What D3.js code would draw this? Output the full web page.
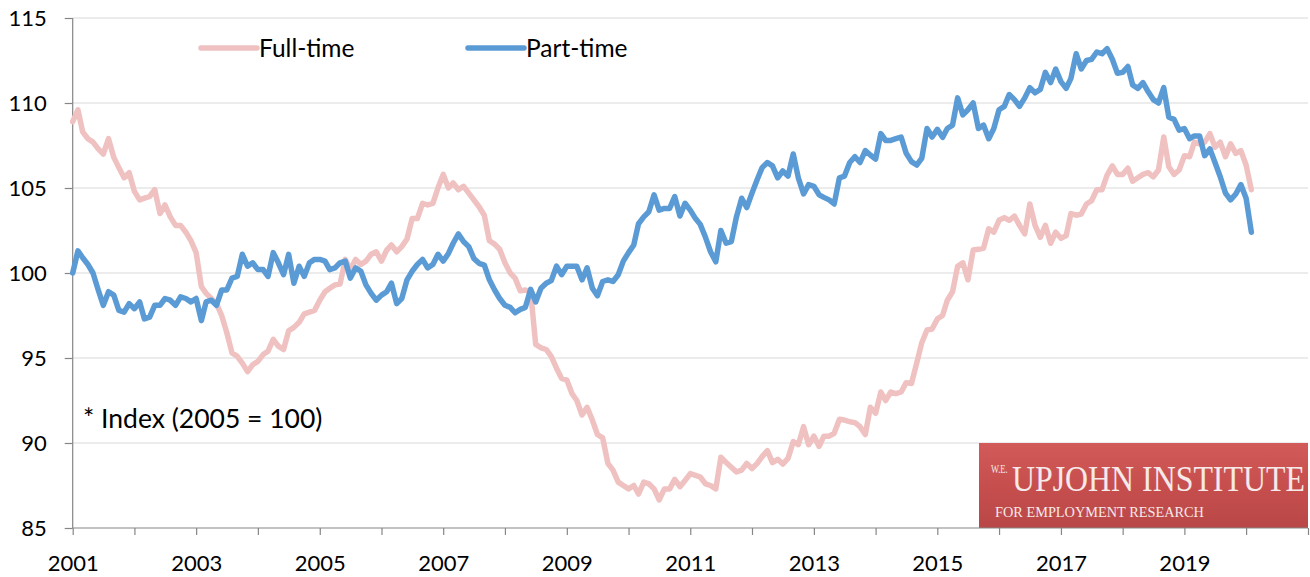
<!DOCTYPE html>
<html>
<head>
<meta charset="utf-8">
<script src="https://cdn.jsdelivr.net/npm/d3@7/dist/d3.min.js"></script>
<style>
  body { margin: 0; background: #fff; }
  svg { display: block; font-family: Lato, "Open Sans", sans-serif; }
  .grid line { stroke: #d9d9d9; stroke-width: 1; }
  .axis path, .axis line { stroke: #868686; stroke-width: 1.2; }
  .axis text { fill: #000; font-size: 22px; font-family: Lato, "Open Sans", sans-serif; }
  .legend text { font-size: 24.5px; fill: #000; }
  .note { font-size: 26.5px; fill: #000; }
  .logo text { font-family: "Liberation Serif", "DejaVu Serif", serif; fill: #f6e9e9; }
  .series { fill: none; stroke-width: 5.5; stroke-linejoin: round; stroke-linecap: round; }
</style>
</head>
<body>
<svg width="1310" height="577"></svg>
<script>
// monthly index values (2005 = 100), Jan 2001 to Feb 2020
var startYear = 2001;

var fullTime = [
  108.9, 109.6, 108.3, 107.9, 107.7, 107.3, 107.0, 107.9, 106.8, 106.2, 105.6, 105.9,
  104.8, 104.3, 104.4, 104.5, 104.9, 103.5, 104.0, 103.3, 102.8, 102.8, 102.4, 101.9,
  101.2, 99.2, 98.8, 98.5, 98.2, 97.5, 96.5, 95.3, 95.1, 94.7, 94.2, 94.6,
  94.8, 95.2, 95.4, 96.1, 95.7, 95.5, 96.6, 96.8, 97.1, 97.6, 97.7, 97.8,
  98.4, 98.9, 99.1, 99.3, 99.35, 100.8, 100.2, 100.8, 100.5, 100.7, 101.1, 101.25,
  100.7, 101.35, 101.65, 101.25, 101.55, 102.0, 103.2, 103.2, 104.1, 104.0, 104.1, 105.0,
  105.8, 105.0, 105.3, 104.9, 105.1, 104.7, 104.3, 103.9, 103.4, 101.9, 101.7, 101.4,
  100.6, 100.0, 99.7, 98.95, 99.0, 98.9, 95.8, 95.6, 95.5, 95.1, 94.4, 93.8,
  93.7, 92.9, 92.5, 91.65, 92.1, 91.35, 90.5, 90.3, 88.8, 88.4, 87.7, 87.5,
  87.3, 87.5, 87.0, 87.7, 87.6, 87.3, 86.65, 87.3, 87.3, 87.86, 87.43, 87.8,
  88.2, 88.1, 88.0, 87.6, 87.5, 87.3, 89.16, 88.85, 88.57, 88.3, 88.4, 88.8,
  88.5, 88.8, 89.2, 89.55, 88.85, 89.04, 88.76, 89.1, 90.08, 89.9, 90.96, 89.9,
  90.4, 89.8, 90.4, 90.4, 90.57, 91.4, 91.35, 91.25, 91.2, 90.96, 90.5, 92.1,
  91.75, 93.0, 92.5, 93.0, 92.9, 93.0, 93.55, 93.5, 94.7, 95.9, 96.65, 96.7,
  97.3, 97.5, 98.4, 98.9, 100.4, 100.6, 99.6, 101.35, 101.4, 101.45, 102.6, 102.4,
  103.1, 103.26, 103.1, 103.35, 102.8, 102.3, 104.06, 102.8, 102.1, 102.8, 101.75, 102.4,
  102.04, 102.2, 103.5, 103.4, 103.47, 104.06, 104.25, 104.9, 104.9, 105.76, 106.3, 105.8,
  105.8, 106.16, 105.4, 105.6, 105.8, 105.9, 105.66, 106.06, 108.0, 106.25, 105.8, 106.06,
  106.9, 106.84, 107.7, 107.6, 107.7, 108.2, 107.4, 107.7, 106.84, 107.6, 107.04, 107.2,
  106.35, 104.9
];

var partTime = [
  100.0, 101.3, 100.9, 100.5, 100.0, 99.0, 98.1, 98.9, 98.7, 97.8, 97.7, 98.2,
  97.9, 98.3, 97.3, 97.4, 98.1, 98.1, 98.5, 98.4, 98.1, 98.6, 98.5, 98.3,
  98.5, 97.2, 98.3, 98.4, 98.1, 99.0, 99.0, 99.7, 99.8, 101.1, 100.4, 100.6,
  100.2, 100.2, 99.8, 101.2, 100.6, 99.9, 101.1, 99.4, 100.4, 99.8, 100.6, 100.8,
  100.8, 100.7, 100.2, 100.3, 100.6, 100.7, 99.7, 100.3, 100.1, 99.3, 98.8, 98.4,
  98.7, 98.9, 99.4, 98.2, 98.5, 99.6, 100.1, 100.5, 100.8, 100.3, 100.5, 101.1,
  100.7, 101.15, 101.75, 102.3, 101.85, 101.55, 100.86, 100.57, 100.47, 99.6, 99.0, 98.5,
  98.1, 97.98, 97.66, 97.86, 97.98, 99.04, 98.3, 99.1, 99.4, 99.55, 100.4, 99.9,
  100.4, 100.4, 100.4, 99.6, 100.3, 99.1, 98.66, 99.5, 99.6, 99.5, 99.9, 100.7,
  101.2, 101.65, 102.9, 103.3, 103.6, 104.6, 103.7, 103.8, 103.8, 104.5, 103.35, 104.1,
  103.7, 103.2, 102.86, 102.1, 101.25, 100.66, 102.5, 101.75, 101.85, 103.3, 104.4, 103.85,
  104.7, 105.5, 106.2, 106.5, 106.3, 105.6, 106.0, 105.7, 107.0, 105.6, 104.65, 105.2,
  105.1, 104.6, 104.45, 104.3, 104.06, 105.6, 105.7, 106.5, 106.84, 106.5, 107.2, 106.94,
  106.7, 108.2, 107.8, 107.8, 107.9, 108.0, 107.04, 106.55, 106.35, 106.75, 108.5, 108.0,
  108.45, 107.98, 108.5, 108.7, 110.3, 109.3, 109.6, 110.0, 108.5, 108.7, 107.9, 108.5,
  109.6, 109.8, 110.5, 110.2, 109.8, 110.3, 110.9, 110.6, 110.8, 111.8, 111.2, 112.0,
  111.26, 110.86, 111.45, 112.9, 112.0, 112.5, 112.57, 113.0, 112.9, 113.2, 112.57, 111.75,
  111.8, 112.15, 111.06, 110.86, 111.2, 110.66, 110.2, 110.0, 110.9, 109.16, 109.04, 108.4,
  108.5, 107.9, 108.06, 108.06, 106.9, 107.3, 106.5, 105.66, 104.7, 104.3, 104.65, 105.2,
  104.4, 102.4
];

var yTicks = [85, 90, 95, 100, 105, 110, 115];
var xLabels = [2001, 2003, 2005, 2007, 2009, 2011, 2013, 2015, 2017, 2019];
var seriesNames = ['Full-time', 'Part-time'];
var seriesColors = ['#f0c1c1', '#5b9bd5'];

var svg = d3.select('svg'),
    plotLeft = 72.7, plotRight = 1308, plotTop = 18, plotBottom = 528;

var x = d3.scaleTime()
    .domain([new Date(startYear, 0, 1), new Date(2021, 0, 1)])
    .range([plotLeft, plotRight]);

var y = d3.scaleLinear()
    .domain([85, 115])
    .range([plotBottom, plotTop]);

function monthDate(i) { return d3.timeMonth.offset(new Date(startYear, 0, 1), i); }

// gridlines
svg.append('g')
    .attr('class', 'grid')
  .selectAll('line')
  .data(yTicks.slice(1))
  .enter().append('line')
    .attr('x1', plotLeft)
    .attr('x2', plotRight)
    .attr('y1', function(d) { return y(d); })
    .attr('y2', function(d) { return y(d); });

// logo box
var defs = svg.append('defs');
var grad = defs.append('linearGradient')
    .attr('id', 'logoGrad')
    .attr('x1', 0).attr('y1', 0).attr('x2', 0).attr('y2', 1);
grad.append('stop').attr('offset', '0%').attr('stop-color', '#d25b5a');
grad.append('stop').attr('offset', '55%').attr('stop-color', '#c54e4d');
grad.append('stop').attr('offset', '100%').attr('stop-color', '#b94747');

var logo = svg.append('g').attr('class', 'logo');
logo.append('rect')
    .attr('x', 979).attr('y', 443)
    .attr('width', 329).attr('height', 85)
    .attr('fill', 'url(#logoGrad)');
// serif lettering squeezed horizontally like the original logo
logo.append('text')
    .attr('transform', 'translate(991,473) scale(0.68,1)')
    .attr('font-size', 12.5)
    .text('W.E.');
logo.append('text')
    .attr('transform', 'translate(1012,491) scale(0.885,1)')
    .attr('font-size', 36)
    .text('UPJOHN INSTITUTE');
logo.append('text')
    .attr('transform', 'translate(995,517) scale(0.955,1)')
    .attr('font-size', 15)
    .attr('fill', '#f3e4e4')
    .text('FOR EMPLOYMENT RESEARCH');

// axes
var yAxis = d3.axisLeft(y)
    .tickValues(yTicks)
    .tickSize(8)
    .tickPadding(18)
    .tickFormat(d3.format('d'));

svg.append('g')
    .attr('class', 'axis')
    .attr('transform', 'translate(' + plotLeft + ',0)')
    .call(yAxis)
    .call(function(g) { g.select('.domain').attr('d', 'M0,' + plotTop + 'V' + plotBottom); });

var xAxis = d3.axisBottom(x)
    .ticks(d3.timeYear.every(1))
    .tickSize(7)
    .tickFormat(function(d) {
      return xLabels.indexOf(d.getFullYear()) >= 0 ? d.getFullYear() : '';
    });

svg.append('g')
    .attr('class', 'axis')
    .attr('transform', 'translate(0,' + plotBottom + ')')
    .call(xAxis)
    .call(function(g) {
      g.select('.domain').attr('d', 'M' + plotLeft + ',0H' + plotRight);
      g.selectAll('text').attr('y', 35).attr('dy', '0.35em');
    });

svg.selectAll('.axis text').attr('font-family', null).attr('font-size', null);

// lines
var line = d3.line()
    .x(function(d, i) { return x(monthDate(i)); })
    .y(function(d) { return y(d); });

svg.append('path')
    .attr('class', 'series')
    .attr('stroke', seriesColors[0])
    .attr('d', line(fullTime));

svg.append('path')
    .attr('class', 'series')
    .attr('stroke', seriesColors[1])
    .attr('d', line(partTime));

// legend
var legend = svg.append('g').attr('class', 'legend');
var legendX = [201, 468];
seriesNames.forEach(function(name, k) {
  legend.append('line')
      .attr('x1', legendX[k]).attr('x2', legendX[k] + 56)
      .attr('y1', 48).attr('y2', 48)
      .attr('stroke', seriesColors[k])
      .attr('stroke-width', 5.5)
      .attr('stroke-linecap', 'round');
  legend.append('text')
      .attr('x', legendX[k] + 58)
      .attr('y', 48)
      .attr('dy', '0.35em')
      .text(name);
});

svg.append('text')
    .attr('class', 'note')
    .attr('x', 83)
    .attr('y', 419)
    .attr('dy', '0.35em')
    .text('* Index (2005 = 100)');
</script>
</body>
</html>
